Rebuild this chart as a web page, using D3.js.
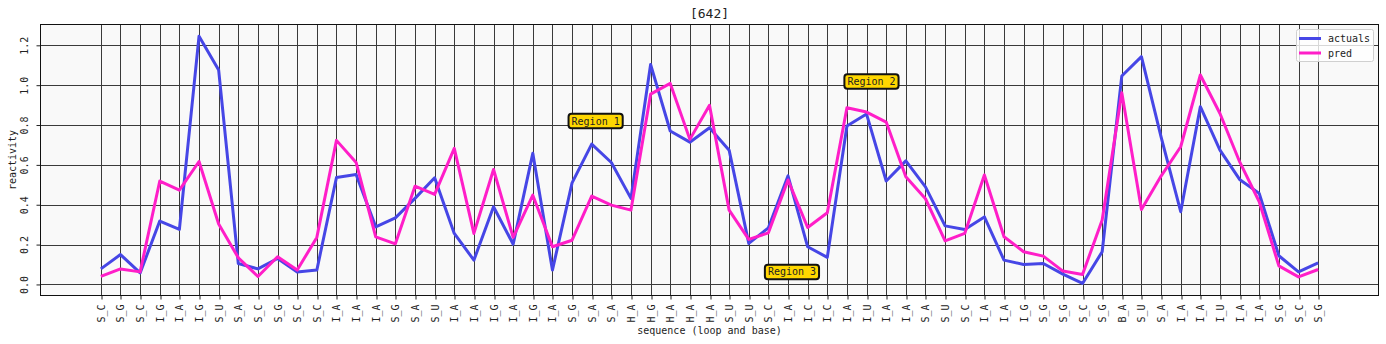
<!DOCTYPE html>
<html>
<head>
<meta charset="utf-8">
<script src="https://cdn.jsdelivr.net/npm/d3@7"></script>
<style>
  html, body { margin: 0; padding: 0; background: #ffffff; }
  svg { display: block; }
  text { font-family: "DejaVu Sans Mono", monospace; fill: #222; }
</style>
</head>
<body>
<svg id="chart" width="1386" height="344"></svg>
<script>
// ---------- data ----------
const categories = ["S_C","S_G","S_C","I_G","I_A","I_G","S_U","S_A","S_C","S_G","S_C","S_C","I_A","I_A","I_A","S_G","S_A","S_U","I_A","I_A","I_G","I_A","I_G","I_A","S_G","S_A","S_A","H_A","H_G","H_A","H_A","H_A","S_U","S_U","S_C","I_A","I_C","I_C","I_A","I_U","I_A","I_A","S_A","S_U","S_C","I_A","I_A","I_G","S_G","S_G","S_C","S_G","B_A","S_U","S_A","I_A","I_A","I_U","I_A","I_A","S_G","S_C","S_G"];

const actuals = [0.078,0.150,0.058,0.318,0.276,1.246,1.076,0.105,0.078,0.130,0.063,0.072,0.537,0.552,0.289,0.334,0.432,0.535,0.256,0.122,0.390,0.202,0.658,0.072,0.510,0.704,0.612,0.432,1.104,0.770,0.714,0.786,0.674,0.206,0.284,0.545,0.189,0.136,0.795,0.855,0.519,0.620,0.490,0.294,0.276,0.339,0.122,0.100,0.105,0.052,0.005,0.164,1.046,1.143,0.741,0.365,0.892,0.674,0.527,0.457,0.144,0.063,0.108];

const pred = [0.040,0.078,0.063,0.519,0.473,0.617,0.303,0.134,0.040,0.139,0.072,0.236,0.723,0.612,0.239,0.204,0.493,0.452,0.683,0.256,0.577,0.236,0.448,0.189,0.222,0.443,0.398,0.373,0.955,1.009,0.728,0.899,0.373,0.226,0.259,0.524,0.286,0.360,0.887,0.865,0.815,0.540,0.430,0.219,0.256,0.549,0.239,0.164,0.142,0.067,0.050,0.323,0.962,0.376,0.544,0.691,1.051,0.858,0.616,0.415,0.093,0.038,0.075];

const yTicks = [0.0, 0.2, 0.4, 0.6, 0.8, 1.0, 1.2];
const yTickLabels = ["0.0","0.2","0.4","0.6","0.8","1.0","1.2"];

const annotationLabels = ["Region 1", "Region 2", "Region 3"];
const annotationX = [25.2, 39.25, 35.2];
const annotationY = [0.82, 1.018, 0.063];

const seriesNames = ["actuals", "pred"];
const titleText = "[642]";

// ---------- layout ----------
const W = 1386, H = 344;
const m = { left: 40, right: 1379, top: 24, bottom: 296 };
const colors = { actuals: "#4646e6", pred: "#ff1ec8" };

const svg = d3.select("#chart");

const n = categories.length;
const xPad = (n - 1) * 0.05;
const x = d3.scaleLinear().domain([-xPad, (n - 1) + xPad]).range([m.left, m.right]);
const y = d3.scaleLinear().domain([-0.058, 1.307]).range([m.bottom, m.top]);

// background
svg.append("rect")
  .attr("x", m.left).attr("y", m.top)
  .attr("width", m.right - m.left).attr("height", m.bottom - m.top)
  .attr("fill", "#f9f9f9");

// grid
const grid = svg.append("g").attr("stroke", "#3a3a3a").attr("stroke-width", 1).attr("shape-rendering", "crispEdges");
grid.selectAll("line.v").data(d3.range(n)).join("line")
  .attr("x1", d => Math.round(x(d)) + 0.5).attr("x2", d => Math.round(x(d)) + 0.5)
  .attr("y1", m.top).attr("y2", m.bottom);
grid.selectAll("line.h").data(yTicks).join("line")
  .attr("y1", d => Math.round(y(d)) + 0.5).attr("y2", d => Math.round(y(d)) + 0.5)
  .attr("x1", m.left).attr("x2", m.right);

// axes via d3
const xAxis = d3.axisBottom(x).tickValues(d3.range(n)).tickFormat(i => categories[i]).tickSize(3.5).tickSizeOuter(0);
const gx = svg.append("g").attr("transform", `translate(0,${m.bottom})`).call(xAxis);
gx.select(".domain").remove();
gx.selectAll(".tick line").attr("stroke", "#222").attr("transform", d => `translate(${Math.round(x(d)) + 0.5 - x(d)},0)`);
gx.selectAll(".tick text")
  .attr("transform", "rotate(-90)")
  .attr("x", -8.5).attr("y", 0).attr("dy", "0.35em")
  .attr("text-anchor", "end")
  .style("font-size", "10px")
  .style("font-family", "'DejaVu Sans Mono', monospace")
  .attr("fill", "#222");

const yAxis = d3.axisLeft(y).tickValues(yTicks).tickFormat((d, i) => yTickLabels[i]).tickSize(3.5).tickSizeOuter(0);
const gy = svg.append("g").attr("transform", `translate(${m.left},0)`).call(yAxis);
gy.select(".domain").remove();
gy.selectAll(".tick line").attr("stroke", "#222");
gy.selectAll(".tick text")
  .attr("transform", "rotate(-90)")
  .attr("x", 0).attr("y", -12).attr("dy", 0)
  .attr("text-anchor", "middle")
  .style("font-size", "10px")
  .style("font-family", "'DejaVu Sans Mono', monospace")
  .attr("fill", "#222");

// lines
const line = d3.line().x((d, i) => x(i)).y(d => y(d)).curve(d3.curveLinear);
const seriesData = [actuals, pred];
seriesNames.forEach((name, k) => {
  svg.append("path")
    .datum(seriesData[k])
    .attr("fill", "none")
    .attr("stroke", colors[name])
    .attr("stroke-width", 3)
    .attr("stroke-linejoin", "round")
    .attr("stroke-linecap", "butt")
    .attr("d", line);
});

// frame
svg.append("rect")
  .attr("x", m.left + 0.5).attr("y", m.top + 0.5)
  .attr("width", m.right - m.left - 1).attr("height", m.bottom - m.top - 1)
  .attr("fill", "none").attr("stroke", "#111").attr("stroke-width", 1);

// annotations
annotationLabels.forEach((lab, i) => {
  const cx = x(annotationX[i]), cy = y(annotationY[i]);
  const g = svg.append("g").attr("transform", `translate(${cx},${cy})`);
  g.append("text")
    .attr("text-anchor", "middle").attr("dy", "0.35em")
    .style("font-size", "10px").text(lab).attr("fill", "#111");
  const w = lab.length * 6.02 + 6, h = 14.5;
  g.insert("rect", "text")
    .attr("x", -w / 2).attr("y", -h / 2).attr("width", w).attr("height", h)
    .attr("rx", 3).attr("ry", 3)
    .attr("fill", "#ffd700").attr("stroke", "#111").attr("stroke-width", 2);
});

// legend
const lg = svg.append("g");
lg.append("rect").attr("x", 1296.5).attr("y", 29.5).attr("width", 77).attr("height", 32)
  .attr("rx", 2).attr("fill", "#ffffff").attr("fill-opacity", 0.8)
  .attr("stroke", "#d0d0d0").attr("stroke-width", 1);
seriesNames.forEach((name, k) => {
  const ly = 38.5 + k * 14.5;
  lg.append("line").attr("x1", 1299).attr("x2", 1321).attr("y1", ly).attr("y2", ly)
    .attr("stroke", colors[name]).attr("stroke-width", 3);
  lg.append("text").attr("x", 1328).attr("y", ly).attr("dy", "0.35em")
    .style("font-size", "10px").text(name).attr("fill", "#222");
});

// title and axis labels
svg.append("text").attr("x", (m.left + m.right) / 2).attr("y", 18)
  .attr("text-anchor", "middle").style("font-size", "13px").text(titleText);
svg.append("text").attr("x", (m.left + m.right) / 2).attr("y", 334)
  .attr("text-anchor", "middle").style("font-size", "10px").text("sequence (loop and base)");
svg.append("text").attr("transform", `translate(16,${(m.top + m.bottom) / 2}) rotate(-90)`)
  .attr("text-anchor", "middle").style("font-size", "10px").text("reactivity");
</script>
</body>
</html>
